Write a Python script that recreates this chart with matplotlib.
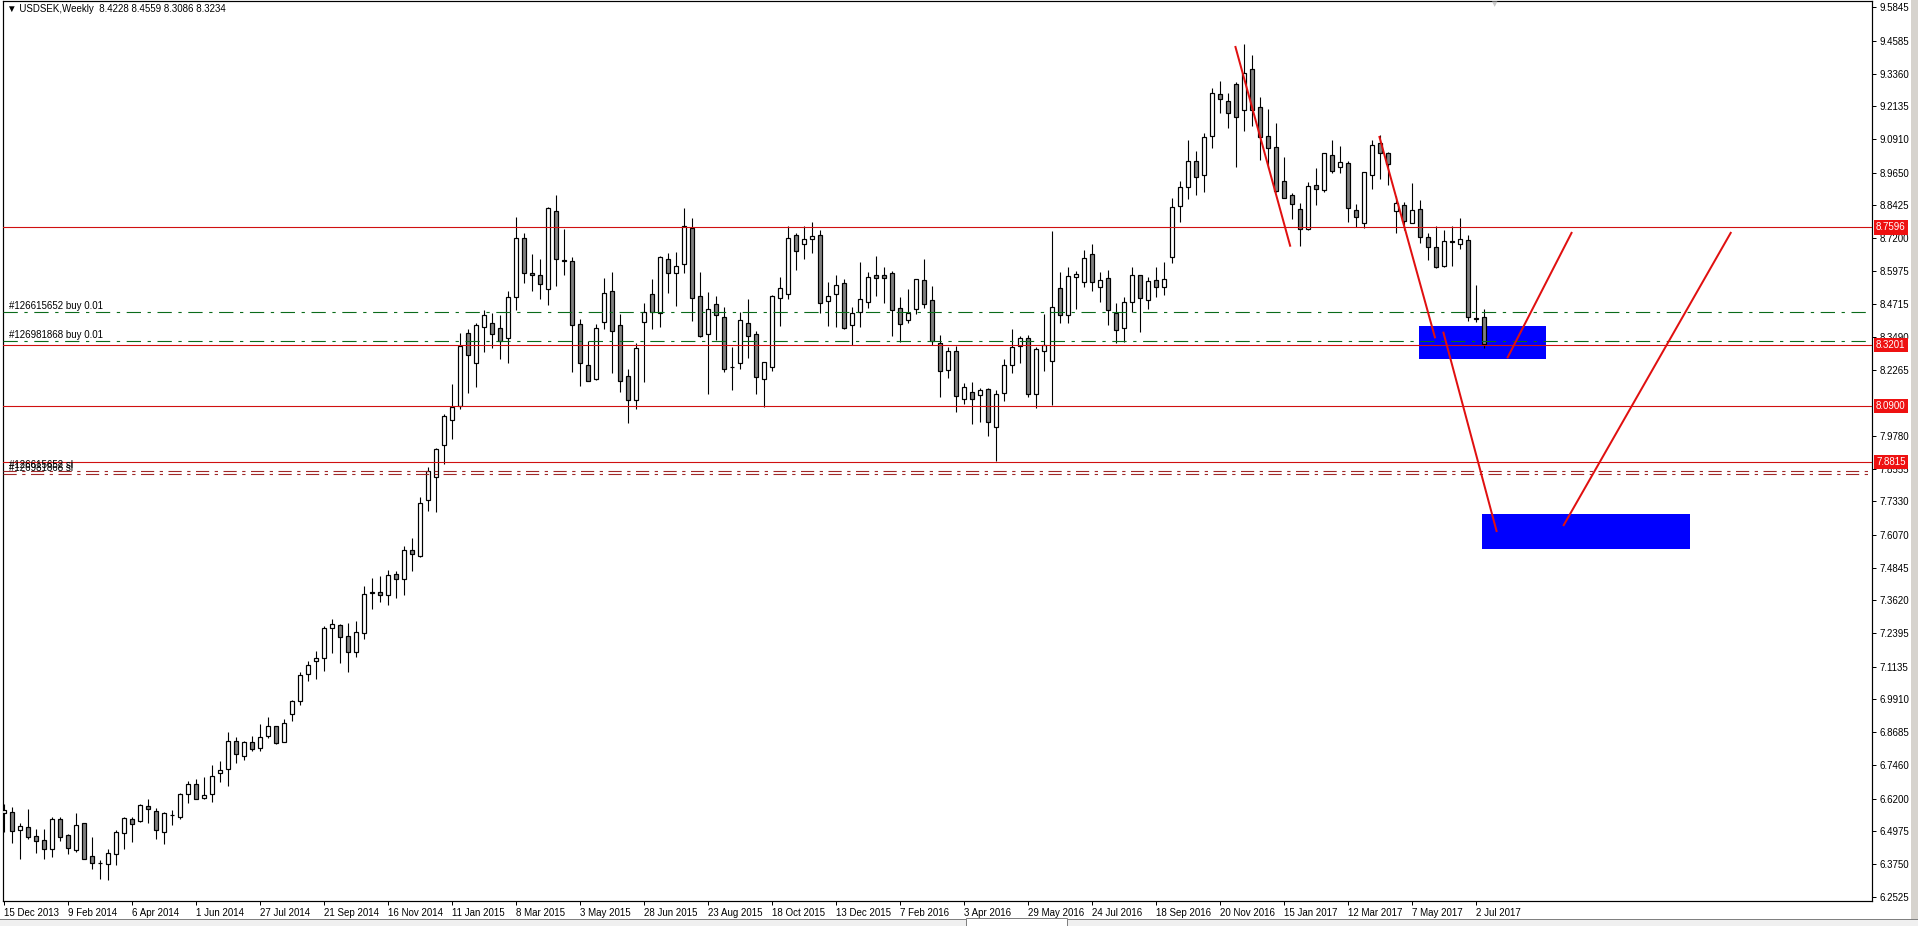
import numpy as np
import matplotlib.pyplot as plt
from matplotlib.patches import Rectangle
from matplotlib.lines import Line2D

plt.rcParams['font.family'] = ['Liberation Sans', 'DejaVu Sans']

# weekly USDSEK candles, 15 Dec 2013 .. 9 Jul 2017
opens = [6.565, 6.568, 6.501, 6.512, 6.478, 6.463, 6.430, 6.542, 6.483, 6.427,
         6.527, 6.403, 6.379, 6.373, 6.411, 6.490, 6.542, 6.535, 6.591, 6.572,
         6.496, 6.560, 6.550, 6.636, 6.676, 6.621, 6.636, 6.714, 6.729, 6.834,
         6.778, 6.831, 6.808, 6.853, 6.891, 6.833, 6.936, 6.984, 7.085, 7.134,
         7.145, 7.258, 7.270, 7.229, 7.170, 7.239, 7.392, 7.392, 7.381, 7.460,
         7.441, 7.551, 7.530, 7.737, 7.823, 7.943, 8.038, 8.091, 8.366, 8.251,
         8.386, 8.403, 8.382, 8.344, 8.500, 8.720, 8.590, 8.581, 8.528, 8.820,
         8.636, 8.633, 8.399, 8.243, 8.193, 8.404, 8.520, 8.393, 8.202, 8.112,
         8.404, 8.509, 8.438, 8.640, 8.588, 8.621, 8.758, 8.501, 8.361, 8.471,
         8.423, 8.237, 8.253, 8.400, 8.359, 8.190, 8.235, 8.494, 8.509, 8.730,
         8.696, 8.715, 8.730, 8.483, 8.509, 8.550, 8.393, 8.442, 8.479, 8.580,
         8.580, 8.588, 8.459, 8.412, 8.453, 8.561, 8.486, 8.328, 8.224, 8.295,
         8.116, 8.142, 8.131, 8.153, 8.011, 8.138, 8.243, 8.314, 8.344, 8.134,
         8.295, 8.258, 8.531, 8.430, 8.575, 8.556, 8.659, 8.537, 8.569, 8.438,
         8.382, 8.479, 8.580, 8.488, 8.561, 8.535, 8.650, 8.839, 8.910, 9.007,
         8.957, 9.104, 9.258, 9.232, 9.296, 9.198, 9.352, 9.210, 9.101, 9.060,
         8.932, 8.880, 8.827, 8.754, 8.919, 8.900, 9.030, 8.985, 9.000, 8.825,
         8.777, 8.955, 9.075, 9.039, 8.822, 8.842, 8.775, 8.827, 8.722, 8.685,
         8.616, 8.707, 8.696, 8.713, 8.415, 8.4228]
highs = [6.600, 6.587, 6.527, 6.581, 6.506, 6.506, 6.551, 6.552, 6.487, 6.565,
         6.530, 6.476, 6.390, 6.430, 6.502, 6.552, 6.552, 6.598, 6.618, 6.583,
         6.568, 6.577, 6.640, 6.687, 6.693, 6.699, 6.744, 6.761, 6.868, 6.849,
         6.837, 6.854, 6.901, 6.924, 6.892, 6.917, 6.989, 7.095, 7.136, 7.173,
         7.266, 7.292, 7.274, 7.276, 7.285, 7.416, 7.448, 7.454, 7.476, 7.473,
         7.566, 7.595, 7.751, 7.863, 7.935, 8.059, 8.173, 8.366, 8.378, 8.403,
         8.450, 8.440, 8.430, 8.520, 8.800, 8.740, 8.660, 8.640, 8.837, 8.881,
         8.752, 8.648, 8.415, 8.333, 8.397, 8.569, 8.594, 8.435, 8.229, 8.325,
         8.475, 8.566, 8.653, 8.665, 8.668, 8.831, 8.794, 8.591, 8.516, 8.503,
         8.463, 8.310, 8.443, 8.491, 8.370, 8.254, 8.505, 8.573, 8.764, 8.737,
         8.764, 8.779, 8.750, 8.555, 8.580, 8.565, 8.460, 8.631, 8.594, 8.653,
         8.613, 8.595, 8.498, 8.529, 8.565, 8.640, 8.540, 8.358, 8.312, 8.314,
         8.176, 8.179, 8.159, 8.157, 8.149, 8.265, 8.379, 8.353, 8.355, 8.313,
         8.434, 8.746, 8.594, 8.610, 8.596, 8.675, 8.696, 8.594, 8.600, 8.475,
         8.500, 8.610, 8.580, 8.573, 8.610, 8.629, 8.869, 8.935, 9.087, 9.046,
         9.115, 9.281, 9.308, 9.265, 9.306, 9.446, 9.406, 9.250, 9.202, 9.150,
         9.024, 8.887, 8.850, 8.929, 8.981, 9.037, 9.087, 9.065, 9.009, 8.846,
         8.966, 9.087, 9.106, 9.041, 8.877, 8.855, 8.927, 8.862, 8.740, 8.765,
         8.750, 8.765, 8.795, 8.731, 8.544, 8.4559]
lows = [6.496, 6.452, 6.394, 6.470, 6.417, 6.395, 6.400, 6.462, 6.411, 6.421,
        6.392, 6.357, 6.320, 6.316, 6.370, 6.430, 6.458, 6.531, 6.530, 6.470,
        6.451, 6.522, 6.542, 6.602, 6.617, 6.617, 6.608, 6.681, 6.667, 6.752,
        6.763, 6.797, 6.799, 6.846, 6.823, 6.831, 6.912, 6.972, 7.061, 7.066,
        7.099, 7.164, 7.126, 7.095, 7.149, 7.216, 7.331, 7.358, 7.345, 7.370,
        7.383, 7.474, 7.524, 7.698, 7.695, 7.872, 7.966, 8.078, 8.141, 8.163,
        8.294, 8.307, 8.265, 8.250, 8.450, 8.550, 8.520, 8.490, 8.469, 8.540,
        8.581, 8.219, 8.167, 8.183, 8.188, 8.378, 8.215, 8.143, 8.026, 8.081,
        8.182, 8.381, 8.388, 8.515, 8.467, 8.590, 8.409, 8.348, 8.134, 8.337,
        8.219, 8.152, 8.230, 8.269, 8.137, 8.086, 8.223, 8.392, 8.490, 8.599,
        8.640, 8.663, 8.438, 8.390, 8.388, 8.378, 8.319, 8.388, 8.459, 8.503,
        8.475, 8.353, 8.332, 8.400, 8.437, 8.459, 8.319, 8.126, 8.197, 8.069,
        8.099, 8.024, 8.031, 7.979, 7.886, 8.108, 8.215, 8.253, 8.126, 8.084,
        8.223, 8.096, 8.400, 8.400, 8.453, 8.538, 8.523, 8.481, 8.394, 8.328,
        8.332, 8.444, 8.369, 8.454, 8.500, 8.506, 8.628, 8.780, 8.865, 8.881,
        8.892, 9.058, 9.187, 9.133, 8.987, 9.122, 9.140, 9.012, 8.981, 8.894,
        8.869, 8.790, 8.690, 8.750, 8.844, 8.892, 8.962, 8.962, 8.781, 8.762,
        8.756, 8.905, 8.942, 8.917, 8.740, 8.750, 8.775, 8.703, 8.638, 8.608,
        8.613, 8.616, 8.680, 8.409, 8.407, 8.3086]
closes = [6.577, 6.500, 6.516, 6.475, 6.460, 6.430, 6.543, 6.475, 6.433, 6.520,
          6.395, 6.377, 6.377, 6.415, 6.495, 6.548, 6.523, 6.594, 6.580, 6.501,
          6.565, 6.558, 6.636, 6.676, 6.618, 6.634, 6.703, 6.727, 6.834, 6.786,
          6.831, 6.804, 6.849, 6.891, 6.827, 6.902, 6.985, 7.082, 7.119, 7.145,
          7.258, 7.273, 7.224, 7.170, 7.243, 7.385, 7.389, 7.381, 7.456, 7.441,
          7.550, 7.535, 7.726, 7.847, 7.930, 8.052, 8.086, 8.316, 8.281, 8.395,
          8.430, 8.360, 8.333, 8.500, 8.720, 8.590, 8.580, 8.546, 8.831, 8.640,
          8.634, 8.393, 8.250, 8.183, 8.382, 8.513, 8.370, 8.183, 8.112, 8.307,
          8.444, 8.441, 8.648, 8.588, 8.616, 8.764, 8.494, 8.352, 8.453, 8.430,
          8.228, 8.236, 8.412, 8.352, 8.198, 8.254, 8.501, 8.531, 8.719, 8.670,
          8.715, 8.726, 8.475, 8.502, 8.545, 8.384, 8.438, 8.490, 8.573, 8.571,
          8.571, 8.450, 8.397, 8.440, 8.565, 8.474, 8.335, 8.220, 8.295, 8.127,
          8.161, 8.116, 8.149, 8.029, 8.134, 8.243, 8.312, 8.344, 8.134, 8.303,
          8.320, 8.460, 8.430, 8.576, 8.584, 8.646, 8.554, 8.561, 8.449, 8.377,
          8.479, 8.580, 8.494, 8.560, 8.535, 8.565, 8.835, 8.912, 9.007, 8.947,
          9.100, 9.262, 9.240, 9.187, 9.175, 9.337, 9.198, 9.097, 9.056, 8.897,
          8.871, 8.847, 8.753, 8.914, 8.905, 9.037, 8.972, 9.004, 8.831, 8.800,
          8.966, 9.067, 9.037, 8.996, 8.850, 8.785, 8.825, 8.725, 8.688, 8.613,
          8.708, 8.705, 8.716, 8.423, 8.421, 8.3234]

date_labels = ["15 Dec 2013", "9 Feb 2014", "6 Apr 2014", "1 Jun 2014", "27 Jul 2014",
               "21 Sep 2014", "16 Nov 2014", "11 Jan 2015", "8 Mar 2015", "3 May 2015",
               "28 Jun 2015", "23 Aug 2015", "18 Oct 2015", "13 Dec 2015", "7 Feb 2016",
               "3 Apr 2016", "29 May 2016", "24 Jul 2016", "18 Sep 2016", "20 Nov 2016",
               "15 Jan 2017", "12 Mar 2017", "7 May 2017", "2 Jul 2017"]
price_ticks = [9.5845, 9.4585, 9.3360, 9.2135, 9.0910, 8.9650, 8.8425, 8.7200, 8.5975,
               8.4715, 8.3490, 8.2265, 7.9780, 7.8555, 7.7330, 7.6070, 7.4845, 7.3620,
               7.2395, 7.1135, 6.9910, 6.8685, 6.7460, 6.6200, 6.4975, 6.3750, 6.2525]

level_prices = [8.7596, 8.3201, 8.0900, 7.8815]
order_prices = [8.4415, 8.3340]
order_labels = ["#126615652 buy 0.01", "#126981868 buy 0.01"]
stop_prices = [7.8480, 7.8370]
stop_labels = ["#126615652 sl", "#126981868 sl"]

# drawn objects: (bar, price) pairs
trend_lines = [((153.9, 9.4395), (160.8, 8.6876)),
               ((171.9, 9.1023), (178.9, 8.3443)),
               ((179.9, 8.3691), (186.6, 7.6186)),
               ((187.9, 8.2694), (196.0, 8.7426)),
               ((194.9, 7.6410), (215.9, 8.7426))]
boxes = [((176.9, 8.2657), (192.8, 8.3904)),
         ((184.8, 7.5540), (210.8, 7.6870))]

W, H = 1918, 926
fig = plt.figure(figsize=(W / 100, H / 100), dpi=100)
ax = fig.add_axes([3 / W, 1 - 901 / H, (1872 - 3) / W, 900 / H])
ax.set_xlim(-0.125, 233.5)
ax.set_ylim(6.236, 9.6081)

px = 0.72  # one pixel in points

# boxes in background
for (x0, y0), (x1, y1) in boxes:
    ax.add_patch(Rectangle((x0, y0), x1 - x0, y1 - y0, facecolor='#0000ff',
                           edgecolor='none', zorder=0.5))

# candles
o = np.array(opens)
h = np.array(highs)
l = np.array(lows)
c = np.array(closes)
x = np.arange(len(o))
ax.vlines(x, l, h, color='black', lw=1.1 * px, zorder=2)
bottoms = np.minimum(o, c)
heights = np.maximum(np.abs(c - o), 0.001)
faces = ['white' if cc > oo else '#808080' for oo, cc in zip(o, c)]
ax.bar(x, heights, width=0.5, bottom=bottoms, color=faces, edgecolor='black',
       linewidth=1.2 * px, zorder=3)

# horizontal levels
for p in level_prices:
    ax.axhline(p, color='#d01010', lw=1.1 * px, zorder=4)
    ax.text(1 + 4 / 1869, p, f'{p:.4f}', transform=ax.get_yaxis_transform(),
            ha='left', va='center', color='white', fontsize=7, zorder=10,
            bbox=dict(boxstyle='square,pad=0.22', fc='#ee1111', ec='none'))

for p, lab in zip(order_prices, order_labels):
    ax.axhline(p, color='#0b6b1b', lw=1.1 * px, zorder=4,
               dashes=(13, 6, 3, 6))
    ax.text(6 / 1869, p + 0.005, lab, transform=ax.get_yaxis_transform(),
            ha='left', va='bottom', fontsize=7, color='black', zorder=5)

for p, lab in zip(stop_prices, stop_labels):
    ax.axhline(p, color='#a02828', lw=1.1 * px, zorder=4,
               dashes=(12, 5, 3, 5))
    ax.text(6 / 1869, p + 0.002, lab, transform=ax.get_yaxis_transform(),
            ha='left', va='bottom', fontsize=7, color='black', zorder=5)

# trend lines
for (x0, y0), (x1, y1) in trend_lines:
    ax.plot([x0, x1], [y0, y1], color='#e01010', lw=2 * px, zorder=6,
            solid_capstyle='butt')

# axes styling
for s in ax.spines.values():
    s.set_linewidth(1.2 * px)
    s.set_color('black')
ax.yaxis.tick_right()
ax.set_yticks(price_ticks)
ax.set_yticklabels([f'{v:.4f}' for v in price_ticks])
ax.tick_params(axis='y', direction='out', length=3, width=px, labelsize=7, pad=2.5)
ax.set_xticks(np.arange(len(date_labels)) * 8)
ax.set_xticklabels(date_labels, ha='left')
ax.tick_params(axis='x', direction='out', length=3, width=px, labelsize=7, pad=2)

ax.text(4 / 1869, 1 - 8 / 900, '\u25bc USDSEK,Weekly  8.4228 8.4559 8.3086 8.3234',
        transform=ax.transAxes, ha='left', va='center', fontsize=7)

# window chrome
fig.patches.append(Rectangle((1911 / W, 0), 7 / W, 1, transform=fig.transFigure,
                             facecolor='#d6d3ce', edgecolor='none'))
fig.patches.append(Rectangle((0, 0), 1, 7 / H, transform=fig.transFigure,
                             facecolor='#f0f0f0', edgecolor='none'))
fig.lines.append(Line2D([0, 965 / W], [7 / H, 7 / H], transform=fig.transFigure,
                        color='#808080', lw=px))
fig.lines.append(Line2D([1068 / W, 1], [7 / H, 7 / H], transform=fig.transFigure,
                        color='#808080', lw=px))
fig.patches.append(Rectangle((966 / W, 0), 101 / W, 8 / H, transform=fig.transFigure,
                             facecolor='white', edgecolor='#808080', lw=px))
fig.text(1495 / W, 1 - 4 / H, '\u25bc', color='#c8c8c8', fontsize=5,
         ha='center', va='center', family=['DejaVu Sans'])

fig.savefig('out.png', dpi=100)
